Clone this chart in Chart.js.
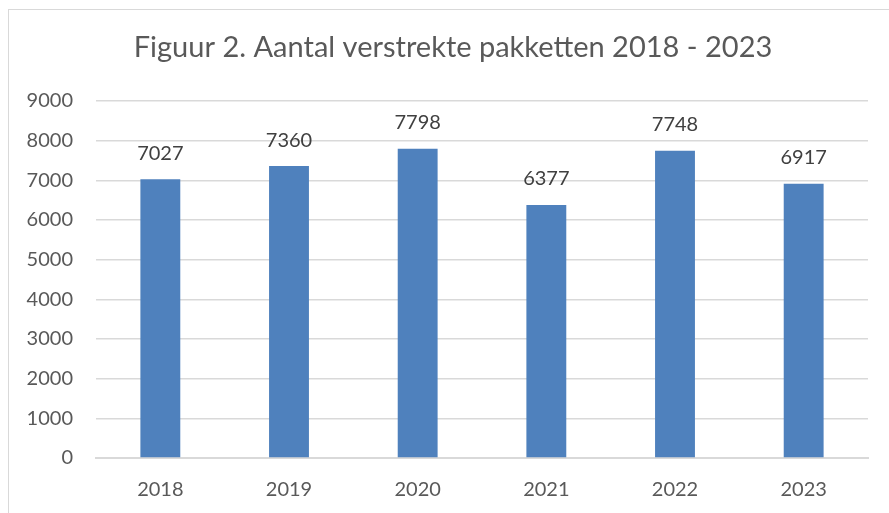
<!DOCTYPE html>
<html>
<head>
<meta charset="utf-8">
<script src="https://cdn.jsdelivr.net/npm/chart.js@4/dist/chart.umd.min.js"></script>
<style>
  html, body { margin: 0; padding: 0; background: #fff; }
  #frame { position: absolute; left: 8px; top: 9px; width: 900px; height: 520px; border: 1px solid #d9d9d9; }
  #wrap { position: absolute; left: 0; top: 0; width: 889px; height: 513px; }
</style>
</head>
<body>
<div id="frame"></div>
<div id="wrap"><canvas id="chart" width="889" height="513"></canvas></div>
<script>
const chartTitle = 'Figuur 2. Aantal verstrekte pakketten 2018 - 2023';
const years = ['2018', '2019', '2020', '2021', '2022', '2023'];
const pakketten = [7027, 7360, 7798, 6377, 7748, 6917];
const yTicks = [0, 1000, 2000, 3000, 4000, 5000, 6000, 7000, 8000, 9000];

const FONT = 'Lato, "Open Sans", sans-serif';

// title is centred on the outer chart frame, not on the plot
const frameTitle = {
  id: 'frameTitle',
  afterDraw(chart) {
    const ctx = chart.ctx;
    ctx.save();
    ctx.font = '29px ' + FONT;
    ctx.fillStyle = '#595959';
    ctx.textAlign = 'center';
    ctx.textBaseline = 'middle';
    ctx.fillText(chartTitle, 453, 48);
    ctx.restore();
  }
};

// draws the value above each bar
const valueLabels = {
  id: 'valueLabels',
  afterDatasetsDraw(chart) {
    const ctx = chart.ctx;
    const meta = chart.getDatasetMeta(0);
    ctx.save();
    ctx.font = '20px ' + FONT;
    ctx.fillStyle = '#404040';
    ctx.textAlign = 'center';
    ctx.textBaseline = 'middle';
    meta.data.forEach((bar, i) => {
      ctx.fillText(String(pakketten[i]), bar.x, bar.y - 26);
    });
    ctx.restore();
  }
};

new Chart(document.getElementById('chart').getContext('2d'), {
  type: 'bar',
  data: {
    labels: years,
    datasets: [{
      data: pakketten,
      backgroundColor: '#4f81bd',
      categoryPercentage: 1,
      barPercentage: 0.31,
    }],
  },
  options: {
    responsive: false,
    animation: false,
    layout: { padding: { left: 0, right: 21, top: 101, bottom: 0 } },
    plugins: {
      legend: { display: false },
      tooltip: { enabled: false },
      title: { display: false },
    },
    scales: {
      x: {
        grid: { display: false, drawTicks: false },
        border: { color: '#d9d9d9', width: 2 },
        ticks: { color: '#595959', font: { family: FONT, size: 20 }, padding: 20 },
        afterFit(scale) { scale.height = 55; },
      },
      y: {
        min: 0,
        max: 9000,
        grid: { color: '#d9d9d9', lineWidth: 1.5, drawTicks: false },
        border: { display: false },
        afterBuildTicks(scale) { scale.ticks = yTicks.map(v => ({ value: v })); },
        ticks: {
          color: '#595959',
          font: { family: FONT, size: 20 },
          padding: 23,
          callback: v => String(v),
        },
        afterFit(scale) { scale.width = 96; },
      },
    },
  },
  plugins: [valueLabels, frameTitle],
});
</script>
</body>
</html>
